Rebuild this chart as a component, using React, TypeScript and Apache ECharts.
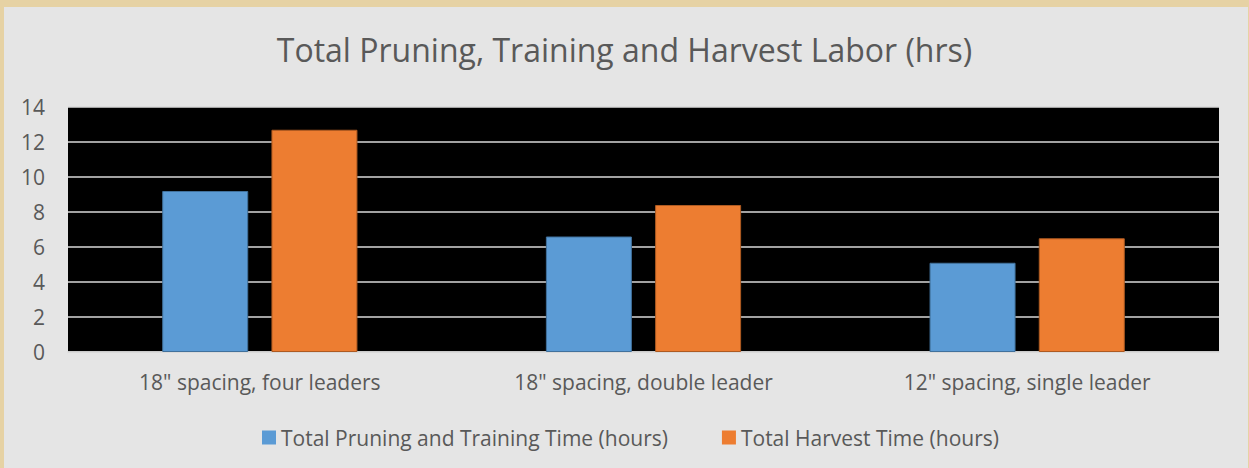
import React, { useEffect, useRef } from "react";
import * as echarts from "echarts";

const categories = ['18" spacing, four leaders', '18" spacing, double leader', '12" spacing, single leader'];
const pruningHours = [9.2, 6.6, 5.1];
const harvestHours = [12.7, 8.4, 6.5];
const seriesNames = ["Total Pruning and Training Time (hours)", "Total Harvest Time (hours)"];
const titleText = "Total Pruning, Training and Harvest Labor (hrs)";

const FONT = "'Open Sans', sans-serif";

export default function App() {
  const ref = useRef<HTMLDivElement>(null);
  useEffect(() => {
    document.body.style.margin = "0";
    if (!ref.current) return;
    const chart = echarts.init(ref.current, null, { renderer: "svg" });
    chart.setOption({
      animation: false,
      backgroundColor: "#e6d2a4",
      textStyle: { fontFamily: FONT },
      graphic: [
        {
          type: "rect",
          z: -10,
          silent: true,
          shape: { x: 4, y: 7, width: 1244, height: 461 },
          style: { fill: "#e5e5e5" },
        },
      ],
      title: {
        text: titleText,
        left: "center",
        top: 28,
        textStyle: { fontFamily: FONT, fontSize: 32, fontWeight: "normal", color: "#595959" },
      },
      legend: {
        data: seriesNames,
        top: 422,
        left: 257,
        itemWidth: 14,
        itemHeight: 14,
        itemGap: 54,
        icon: "rect",
        itemStyle: { borderWidth: 0 },
        textStyle: { fontFamily: FONT, fontSize: 21, color: "#595959" },
      },
      grid: {
        left: 68,
        right: 30,
        top: 107,
        bottom: 116,
        show: true,
        backgroundColor: "#000000",
        borderWidth: 0,
      },
      xAxis: {
        type: "category",
        data: categories,
        axisTick: { show: false },
        axisLine: { lineStyle: { color: "#d9d9d9", width: 1.5 } },
        axisLabel: { fontFamily: FONT, fontSize: 21, color: "#595959", margin: 19 },
      },
      yAxis: {
        type: "value",
        min: 0,
        max: 14,
        interval: 2,
        axisLine: { show: false },
        axisTick: { show: false },
        axisLabel: { fontFamily: FONT, fontSize: 21, color: "#595959", margin: 23 },
        splitLine: { lineStyle: { color: "#d9d9d9", width: 1.5 } },
      },
      series: [
        {
          name: seriesNames[0],
          type: "bar",
          data: pruningHours,
          barWidth: 86,
          barGap: "27%",
          itemStyle: { color: "#5b9bd5", borderColor: "#41719c", borderWidth: 1 },
        },
        {
          name: seriesNames[1],
          type: "bar",
          data: harvestHours,
          barWidth: 86,
          itemStyle: { color: "#ed7d31", borderColor: "#ae5a21", borderWidth: 1 },
        },
      ],
    });
    return () => chart.dispose();
  }, []);
  return <div ref={ref} style={{ width: 1249, height: 468 }} />;
}
